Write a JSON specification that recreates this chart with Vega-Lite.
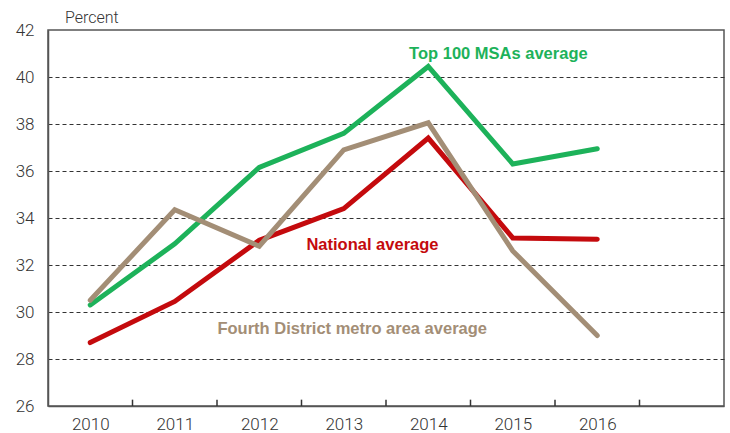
{
  "$schema": "https://vega.github.io/schema/vega-lite/v6.json",
  "autosize": "none",
  "width": 676,
  "height": 376,
  "padding": {"left": 48, "top": 30, "right": 6, "bottom": 27},
  "background": "white",
  "config": {
    "view": {"stroke": "#555", "strokeWidth": 1.5},
    "font": "Liberation Sans"
  },
  "title": {
    "text": "Percent",
    "anchor": "start",
    "frame": "group",
    "dx": 17,
    "dy": 9,
    "offset": 4,
    "baseline": "top",
    "font": "Roboto",
    "fontWeight": 300,
    "fontSize": 16,
    "color": "#333"
  },
  "datasets": {
    "series": [
      {"year": "2010", "series": "Top 100", "value": 30.3},
      {"year": "2011", "series": "Top 100", "value": 32.9},
      {"year": "2012", "series": "Top 100", "value": 36.15},
      {"year": "2013", "series": "Top 100", "value": 37.6},
      {"year": "2014", "series": "Top 100", "value": 40.45},
      {"year": "2015", "series": "Top 100", "value": 36.3},
      {"year": "2016", "series": "Top 100", "value": 36.95},
      {"year": "2010", "series": "National", "value": 28.7},
      {"year": "2011", "series": "National", "value": 30.45},
      {"year": "2012", "series": "National", "value": 33.05},
      {"year": "2013", "series": "National", "value": 34.4},
      {"year": "2014", "series": "National", "value": 37.4},
      {"year": "2015", "series": "National", "value": 33.15},
      {"year": "2016", "series": "National", "value": 33.1},
      {"year": "2010", "series": "Fourth", "value": 30.5},
      {"year": "2011", "series": "Fourth", "value": 34.35},
      {"year": "2012", "series": "Fourth", "value": 32.8},
      {"year": "2013", "series": "Fourth", "value": 36.9},
      {"year": "2014", "series": "Fourth", "value": 38.05},
      {"year": "2015", "series": "Fourth", "value": 32.6},
      {"year": "2016", "series": "Fourth", "value": 29.0}
    ],
    "labels": [
      {"x": 2014.83, "y": 41.0, "series": "Top 100", "text": "Top 100 MSAs average"},
      {"x": 2013.34, "y": 32.85, "series": "National", "text": "National average"},
      {"x": 2013.1, "y": 29.28, "series": "Fourth", "text": "Fourth District metro area average"}
    ],
    "ticks": [
      {"x": 2010.5, "y0": 26, "y1": 26.27},
      {"x": 2011.5, "y0": 26, "y1": 26.27},
      {"x": 2012.5, "y0": 26, "y1": 26.27},
      {"x": 2013.5, "y0": 26, "y1": 26.27},
      {"x": 2014.5, "y0": 26, "y1": 26.27},
      {"x": 2015.5, "y0": 26, "y1": 26.27},
      {"x": 2016.5, "y0": 26, "y1": 26.27}
    ]
  },
  "layer": [
    {
      "data": {"name": "series"},
      "mark": {"type": "line", "strokeWidth": 5, "strokeCap": "round", "strokeJoin": "miter"},
      "encoding": {
        "x": {
          "field": "year",
          "type": "ordinal",
          "scale": {"domain": ["2010","2011","2012","2013","2014","2015","2016","2017"], "paddingInner": 0, "paddingOuter": 0},
          "axis": {
            "title": null,
            "labelAngle": 0,
            "labelExpr": "datum.value == '2017' ? '' : datum.label",
            "ticks": false,
            "labelPadding": 10,
            "domainColor": "#555",
            "domainWidth": 1.5,
            "labelFont": "Roboto",
            "labelFontWeight": 300,
            "labelFontSize": 17,
            "labelColor": "#333",
            "grid": false
          }
        },
        "y": {
          "field": "value",
          "type": "quantitative",
          "scale": {"domain": [26, 42], "nice": false, "zero": false},
          "axis": {
            "title": null,
            "values": [26, 28, 30, 32, 34, 36, 38, 40, 42],
            "ticks": false,
            "labelPadding": 14,
            "domainColor": "#555",
            "domainWidth": 1.5,
            "labelFont": "Roboto",
            "labelFontWeight": 300,
            "labelFontSize": 17,
            "labelColor": "#333",
            "grid": true,
            "gridColor": "#333",
            "gridDash": [4, 3],
            "gridWidth": 1,
            "gridOpacity": {"condition": {"test": "datum.value == 26 || datum.value == 42", "value": 0}, "value": 1}
          }
        },
        "color": {
          "field": "series",
          "type": "nominal",
          "scale": {"domain": ["Top 100", "National", "Fourth"], "range": ["#1db25a", "#c40a0d", "#a38e76"]},
          "legend": null
        },
        "order": {"field": "year", "type": "ordinal"}
      }
    },
    {
      "data": {"name": "ticks"},
      "mark": {"type": "rule", "color": "#333", "strokeWidth": 1.5},
      "encoding": {
        "x": {"field": "x", "type": "quantitative", "scale": {"domain": [2009.5, 2017.5], "nice": false, "zero": false}, "axis": null},
        "y": {"field": "y0", "type": "quantitative"},
        "y2": {"field": "y1"}
      }
    },
    {
      "data": {"name": "labels"},
      "mark": {"type": "text", "fontWeight": "bold", "fontSize": 16.5, "font": "Liberation Sans", "align": "center", "baseline": "middle"},
      "encoding": {
        "x": {"field": "x", "type": "quantitative", "scale": {"domain": [2009.5, 2017.5], "nice": false, "zero": false}, "axis": null},
        "y": {"field": "y", "type": "quantitative"},
        "text": {"field": "text"},
        "color": {"field": "series", "type": "nominal", "legend": null}
      }
    }
  ],
  "resolve": {"scale": {"x": "independent"}}
}
